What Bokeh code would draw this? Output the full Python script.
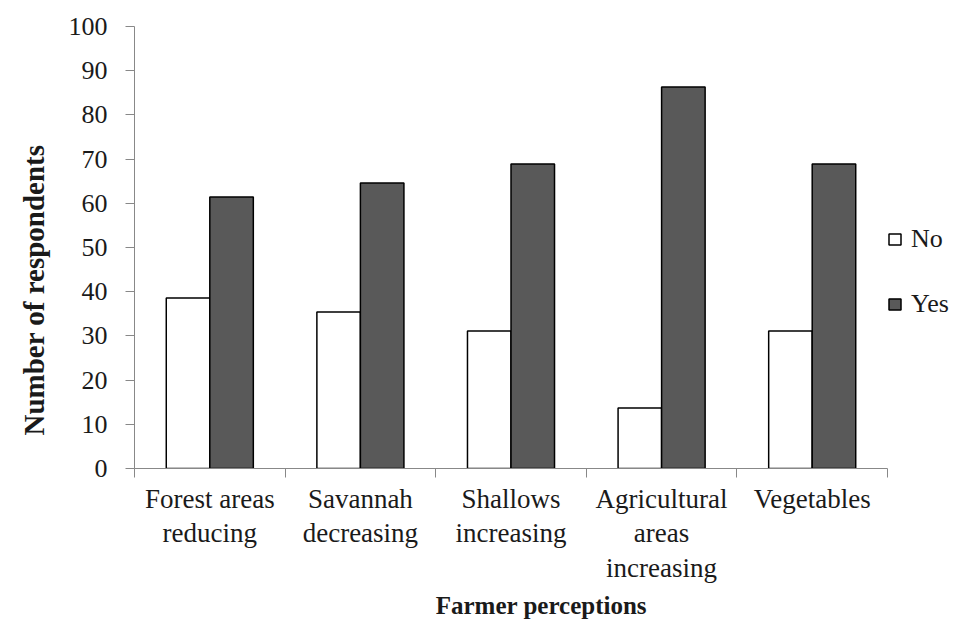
from bokeh.plotting import figure
from bokeh.models import Range1d, FixedTicker, ColumnDataSource, Legend, LegendItem, Title
from bokeh.transform import dodge
from bokeh.embed import file_html
from bokeh.resources import INLINE

categories = ["Forest areas\nreducing", "Savannah\ndecreasing", "Shallows\nincreasing",
              "Agricultural\nareas\nincreasing", "Vegetables"]
no_values = [38.6, 35.4, 31.1, 13.7, 31.1]
yes_values = [61.4, 64.6, 68.9, 86.3, 68.9]
y_ticks = [0, 10, 20, 30, 40, 50, 60, 70, 80, 90, 100]
x_title = "Farmer  perceptions"
y_title = "Number  of respondents"

n = len(categories)
xpos = [i + 0.5 for i in range(n)]
src = ColumnDataSource(dict(x=xpos, no=no_values, yes=yes_values))

FONT = "Liberation Serif"
TXT = "#1a1a1a"

# frame extends to the right edge so the legend is inside it; axis line bounded to the categories
p = figure(width=954, height=623, output_backend="svg", toolbar_location=None,
           x_range=Range1d(0, n * 820 / 753), y_range=Range1d(0, 100),
           min_border_left=134, min_border_right=0, min_border_top=26, min_border_bottom=155)
p.outline_line_color = None
p.xgrid.grid_line_color = None
p.ygrid.grid_line_color = None

bw = 0.289
r_no = p.vbar(x=dodge("x", -bw / 2, range=p.x_range), top="no", width=bw, source=src,
              fill_color="white", line_color="black", line_width=1.5)
r_yes = p.vbar(x=dodge("x", bw / 2, range=p.x_range), top="yes", width=bw, source=src,
               fill_color="#595959", line_color="black", line_width=1.5)

# x axis
xa = p.xaxis[0]
xa.bounds = (0, n)
xa.ticker = FixedTicker(ticks=xpos, minor_ticks=list(range(n + 1)))
xa.major_label_overrides = {x: c for x, c in zip(xpos, categories)}
xa.major_tick_line_color = None
xa.minor_tick_line_color = "#888888"
xa.minor_tick_in = 0
xa.minor_tick_out = 9
xa.axis_line_color = "#888888"
xa.major_label_text_font = FONT
xa.major_label_text_font_size = "27px"
xa.major_label_text_color = TXT
xa.major_label_text_line_height = 1.15
xa.major_label_standoff = 6
xa.axis_label = x_title
xa.axis_label_text_font = FONT
xa.axis_label_text_font_style = "bold"
xa.axis_label_text_font_size = "25px"
xa.axis_label_text_color = TXT
xa.axis_label_standoff = 6

# y axis
ya = p.yaxis[0]
ya.ticker = FixedTicker(ticks=y_ticks)
ya.minor_tick_line_color = None
ya.major_tick_line_color = "#888888"
ya.major_tick_in = 0
ya.major_tick_out = 9
ya.axis_line_color = "#888888"
ya.major_label_text_font = FONT
ya.major_label_text_font_size = "26px"
ya.major_label_text_color = TXT
ya.major_label_standoff = 18

yt = Title(text=y_title, align="left", offset=33, standoff=31,
           text_font=FONT, text_font_style="bold", text_font_size="29px", text_color=TXT)
p.add_layout(yt, "left")

legend = Legend(items=[LegendItem(label="No", renderers=[r_no]),
                       LegendItem(label="Yes", renderers=[r_yes])],
                location=(753, 149))
legend.border_line_color = None
legend.background_fill_alpha = 0
legend.padding = 0
legend.margin = 0
legend.glyph_width = 15
legend.glyph_height = 14
legend.label_height = 14
legend.spacing = 35
legend.label_standoff = 9
legend.label_text_font = FONT
legend.label_text_font_size = "26px"
legend.label_text_color = TXT
p.add_layout(legend, "center")

open("out.html", "w").write(file_html(p, INLINE))
